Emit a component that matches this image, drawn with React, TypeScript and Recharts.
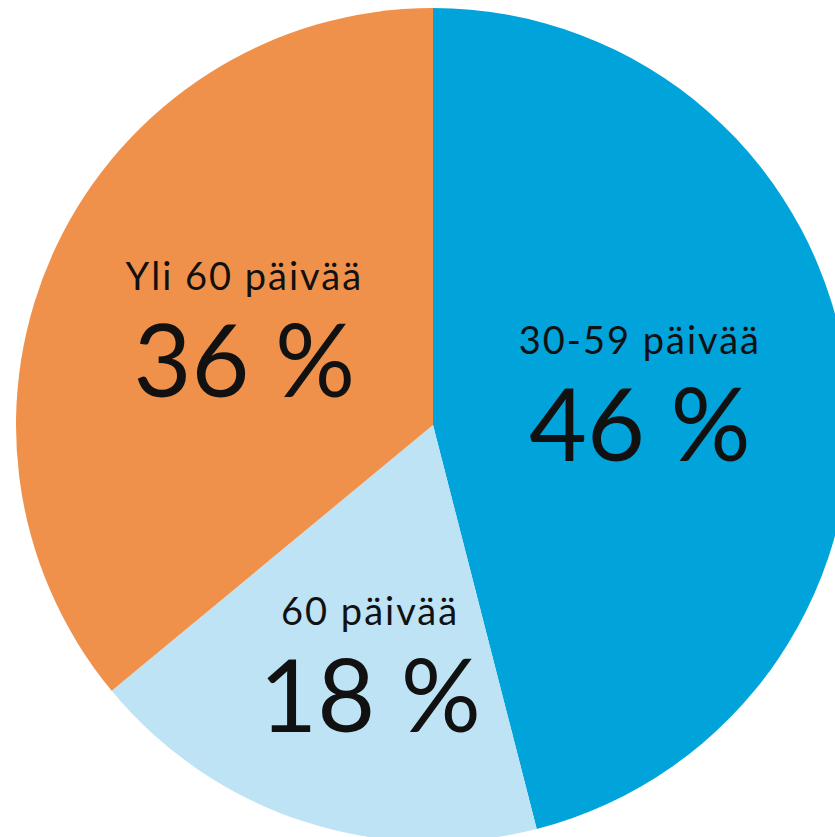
import { Pie, PieChart, Cell } from 'recharts'

const categories = ['30-59 päivää', '60 päivää', 'Yli 60 päivää']
const shares = [46, 18, 36]
const colors = ['#00a3da', '#bee3f5', '#f0914b']

const data = categories.map((name, i) => ({ name, value: shares[i] }))

const RAD = Math.PI / 180
const font = "Lato, 'Open Sans', sans-serif"

function renderLabel(props: any) {
  const { cx, cy, midAngle, outerRadius, index } = props
  const factor = index === 1 ? 0.62 : 0.5
  const r = outerRadius * factor
  // small nudges so the labels sit where the original has them
  const nudgeX = index === 1 ? 17 : 0
  const nudgeY = index === 0 ? 13 : 12
  const x = cx + r * Math.cos(-midAngle * RAD) + nudgeX
  const y = cy + r * Math.sin(-midAngle * RAD) + nudgeY
  const d = data[index]
  return (
    <g>
      <text x={x} y={y - 58} textAnchor="middle" fill="#111" fontSize={38} letterSpacing={2} fontFamily={font}>
        {d.name}
      </text>
      <text x={x} y={y + 49} textAnchor="middle" fill="#111" fontSize={100} fontFamily={font}>
        {d.value} %
      </text>
    </g>
  )
}

export default function App() {
  return (
    <div style={{ position: 'absolute', left: 0, top: 0, width: 835, height: 837, background: '#fff', overflow: 'hidden' }}>
      <PieChart width={870} height={860} margin={{ top: 0, right: 0, bottom: 0, left: 0 }}>
        <Pie
          data={data}
          dataKey="value"
          cx={433}
          cy={425}
          outerRadius={417}
          startAngle={90}
          endAngle={-270}
          stroke="none"
          label={renderLabel}
          labelLine={false}
          isAnimationActive={false}
        >
          {data.map((d, i) => (
            <Cell key={d.name} fill={colors[i]} />
          ))}
        </Pie>
      </PieChart>
    </div>
  )
}
